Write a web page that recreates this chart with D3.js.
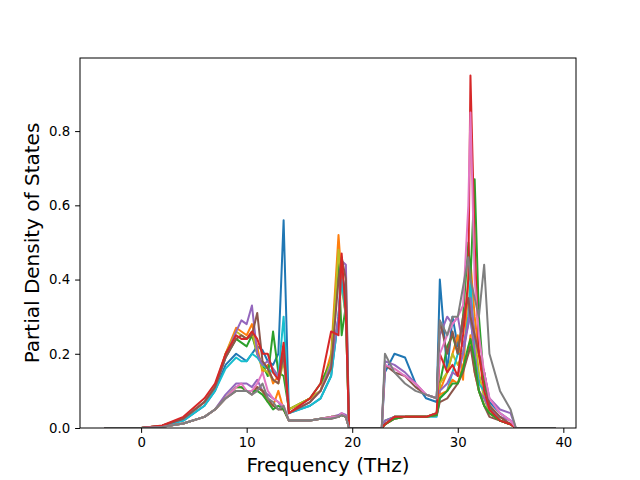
<!DOCTYPE html><html><head><meta charset="utf-8"><script src="https://cdn.jsdelivr.net/npm/d3@7"></script>
<style>body{margin:0;background:#fff}text{font-family:"DejaVu Sans",sans-serif}</style></head><body><svg id="c" width="640" height="480"></svg>
<script>
const freq=[-3.5,0,2,4,6,7,8,9,9.5,10,10.5,11,11.5,12,12.5,13,13.5,14,16,17,18,18.7,19,19.4,19.7,20,22.8,23.1,24,25,26,27,28,28.3,29,29.5,30,30.5,31,31.2,31.6,32,32.5,33,34,35,35.5,36,39.3];
const xTicks=[0,10,20,30,40];
const yTicks=[0,0.2,0.4,0.6,0.8];
const colors=["#1f77b4","#ff7f0e","#2ca02c","#d62728","#9467bd","#8c564b","#e377c2","#7f7f7f","#bcbd22","#17becf","#9467bd","#ff7f0e","#8c564b","#2ca02c"];
const s0=[0,0,.005,.02,.06,.1,.17,.2,.19,.18,.2,.22,.21,.18,.17,.2,.56,.04,.06,.08,.14,.3,.42,.36,0,0,0,.15,.2,.19,.12,.08,.07,.40,.15,.3,.22,.27,.35,.3,.2,.12,.15,.07,.04,.02,0,0,0];
const s1=[0,0,.006,.025,.07,.11,.2,.27,.26,.25,.28,.22,.15,.17,.12,.14,.22,.05,.08,.1,.2,.52,.4,.3,0,0,0,.01,.03,.03,.03,.03,.04,.1,.15,.2,.25,.13,.4,.45,.3,.2,.12,.06,.03,.01,0,0,0];
const s2=[0,0,.006,.025,.07,.11,.19,.24,.23,.22,.25,.2,.17,.14,.26,.15,.14,.05,.08,.12,.18,.45,.25,.33,0,0,0,.02,.03,.03,.03,.03,.04,.12,.22,.25,.2,.3,.5,.4,.67,.3,.12,.06,.02,.01,0,0,0];
const s3=[0,0,.007,.03,.08,.12,.2,.25,.24,.24,.26,.24,.2,.2,.15,.13,.23,.04,.08,.12,.26,.25,.47,.3,0,0,0,.01,.03,.03,.03,.03,.04,.2,.15,.17,.14,.25,.4,.95,.5,.2,.1,.05,.02,.01,0,0,0];
const s4=[0,0,.006,.025,.07,.11,.19,.26,.29,.28,.33,.2,.17,.18,.16,.14,.2,.04,.07,.1,.17,.3,.45,.44,0,0,0,.18,.17,.15,.12,.09,.08,.25,.3,.28,.3,.22,.28,.35,.25,.2,.15,.08,.05,.04,0,0,0];
const s5=[0,0,.006,.025,.07,.11,.19,.24,.25,.24,.25,.31,.18,.16,.13,.12,.2,.04,.07,.1,.16,.4,.46,.4,0,0,0,.17,.15,.14,.11,.09,.08,.29,.2,.26,.2,.3,.35,.3,.25,.2,.15,.06,.03,.01,0,0,0];
const s6=[0,0,.003,.012,.03,.05,.08,.11,.12,.1,.1,.12,.15,.1,.08,.07,.06,.02,.02,.025,.03,.03,.04,.03,0,0,0,.17,.16,.14,.12,.09,.08,.2,.25,.28,.3,.33,.6,.85,.4,.25,.15,.08,.04,.02,0,0,0];
const s7=[0,0,.003,.012,.03,.05,.08,.1,.1,.1,.09,.1,.12,.08,.07,.05,.06,.02,.02,.025,.025,.03,.035,.03,0,0,0,.2,.15,.12,.1,.09,.08,.29,.25,.3,.3,.38,.46,.4,.35,.3,.44,.2,.1,.05,0,0,0];
const s8=[0,0,.006,.025,.07,.11,.2,.26,.25,.24,.26,.2,.16,.15,.13,.12,.18,.05,.08,.1,.18,.48,.38,.3,0,0,0,.01,.03,.03,.03,.03,.04,.12,.15,.2,.17,.2,.3,.35,.25,.15,.08,.04,.02,.01,0,0,0];
const s9=[0,0,.005,.02,.06,.1,.16,.19,.18,.18,.2,.19,.17,.16,.15,.14,.3,.04,.06,.08,.14,.3,.4,.3,0,0,0,.01,.03,.03,.03,.03,.03,.08,.1,.15,.2,.2,.3,.4,.2,.12,.1,.05,.02,.01,0,0,0];
const s10=[0,0,.003,.012,.03,.05,.09,.12,.12,.12,.11,.13,.1,.09,.08,.07,.05,.02,.02,.025,.03,.035,.04,.035,0,0,0,.02,.03,.03,.03,.03,.04,.1,.12,.15,.14,.2,.28,.3,.2,.1,.08,.05,.03,.02,0,0,0];
const s11=[0,0,.003,.012,.03,.05,.08,.11,.11,.1,.1,.11,.1,.07,.06,.1,.05,.02,.02,.025,.03,.03,.035,.03,0,0,0,.01,.025,.03,.03,.03,.035,.09,.1,.13,.12,.17,.2,.25,.15,.1,.06,.04,.02,.01,0,0,0];
const s12=[0,0,.003,.012,.03,.05,.08,.1,.1,.1,.09,.11,.1,.08,.06,.05,.05,.02,.02,.025,.025,.03,.035,.03,0,0,0,.01,.025,.03,.03,.03,.035,.07,.08,.1,.12,.15,.2,.22,.15,.1,.06,.03,.02,.01,0,0,0];
const s13=[0,0,.003,.012,.03,.05,.08,.11,.11,.1,.1,.1,.09,.07,.05,.06,.05,.02,.02,.025,.03,.03,.035,.03,0,0,0,.01,.025,.03,.03,.03,.035,.08,.1,.12,.12,.16,.22,.24,.18,.1,.06,.04,.02,.01,0,0,0];
const series=[s0,s1,s2,s8,s9,s10,s11,s12,s13,s4,s5,s3,s6,s7];
const order=[0,1,2,8,9,10,11,12,13,4,5,3,6,7];
const L=80,R=576,T=58,B=428;
const svg=d3.select("#c");
const x=d3.scaleLinear().domain([-5.79,41.2]).range([L,R]);
const y=d3.scaleLinear().domain([0,0.997]).range([B,T]);
svg.append("clipPath").attr("id","cl").append("rect").attr("x",L).attr("y",T).attr("width",R-L).attr("height",B-T);
const g=svg.append("g").attr("clip-path","url(#cl)");
const line=d3.line().x((d,i)=>x(freq[i])).y(d=>y(d));
series.forEach((s,k)=>{g.append("path").attr("d",line(s)).attr("fill","none").attr("stroke",colors[order[k]]).attr("stroke-width",2).attr("stroke-linejoin","round");});
svg.append("g").attr("transform",`translate(0,${B})`).call(d3.axisBottom(x).tickValues(xTicks).tickSize(4.9).tickPadding(4.9)).call(a=>{a.select(".domain").remove();a.selectAll("text").attr("font-size",13.3).attr("fill","#000")});
svg.append("g").attr("transform",`translate(${L},0)`).call(d3.axisLeft(y).tickValues(yTicks).tickFormat(d3.format(".1f")).tickSize(4.9).tickPadding(4.9)).call(a=>{a.select(".domain").remove();a.selectAll("text").attr("font-size",13.3).attr("fill","#000")});
svg.append("rect").attr("x",L).attr("y",T).attr("width",R-L).attr("height",B-T).attr("fill","none").attr("stroke","#000").attr("stroke-width",1);
svg.append("text").attr("x",(L+R)/2).attr("y",472).attr("text-anchor","middle").attr("font-size",20).text("Frequency (THz)");
svg.append("text").attr("transform",`translate(39,${(T+B)/2}) rotate(-90)`).attr("text-anchor","middle").attr("font-size",20).text("Partial Density of States");
</script></body></html>
